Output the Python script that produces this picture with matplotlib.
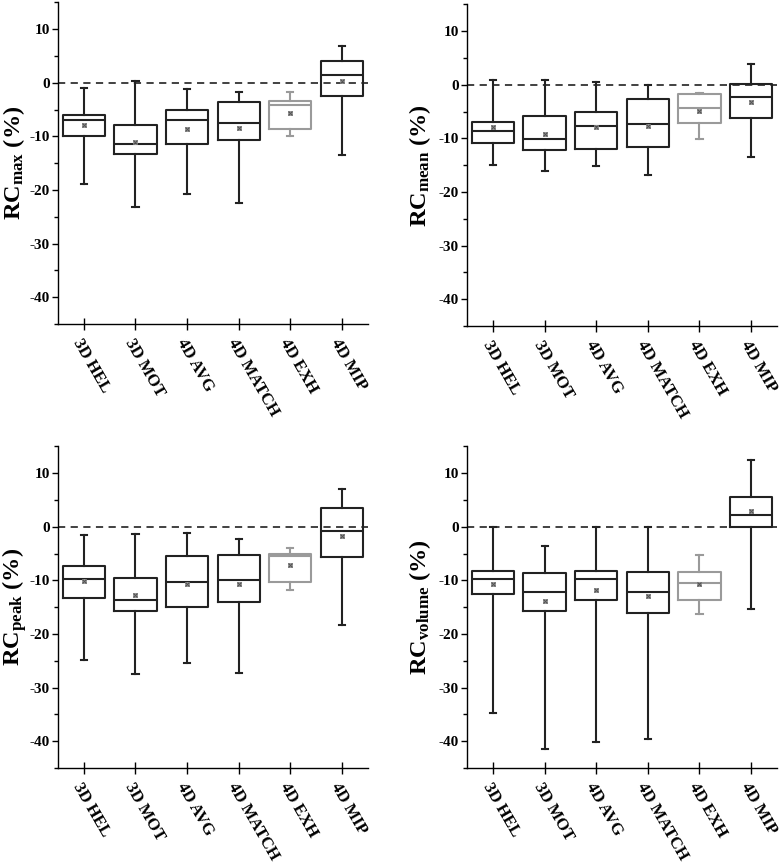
import matplotlib
matplotlib.use("Agg")
import matplotlib.pyplot as plt
from matplotlib.ticker import MultipleLocator

plt.rcParams['font.family'] = ['Liberation Serif', 'DejaVu Serif']
plt.rcParams['font.weight'] = 'bold'
plt.rcParams['axes.unicode_minus'] = False
plt.rcParams['mathtext.fontset'] = 'custom'
plt.rcParams['mathtext.rm'] = 'Liberation Serif:bold'
plt.rcParams['mathtext.it'] = 'Liberation Serif:bold'
plt.rcParams['mathtext.bf'] = 'Liberation Serif:bold'

methods = ["3D HEL", "3D MOT", "4D AVG", "4D MATCH", "4D EXH", "4D MIP"]

# each: lower whisker, Q1, median, Q3, upper whisker, mean
rc_max_low = [-18.9, -23.2, -20.8, -22.4, -9.9, -13.4]
rc_max_q1 = [-10.0, -13.3, -11.4, -10.7, -8.6, -2.5]
rc_max_med = [-7.0, -11.5, -6.9, -7.5, -4.1, 1.4]
rc_max_q3 = [-6.1, -7.9, -5.0, -3.6, -3.5, 4.0]
rc_max_high = [-0.9, 0.3, -1.2, -1.8, -1.8, 6.9]
rc_max_mean = [-7.9, -11.1, -8.6, -8.4, -5.6, 0.3]

rc_mean_low = [-14.9, -16.0, -15.2, -16.8, -10.1, -13.5]
rc_mean_q1 = [-10.9, -12.2, -11.9, -11.6, -7.1, -6.2]
rc_mean_med = [-8.7, -10.1, -7.6, -7.3, -4.4, -2.3]
rc_mean_q3 = [-6.9, -5.8, -5.1, -2.6, -1.8, 0.1]
rc_mean_high = [0.8, 0.8, 0.6, 0.0, -1.5, 3.8]
rc_mean_mean = [-7.9, -9.1, -7.9, -7.6, -4.9, -3.3]

rc_peak_low = [-24.8, -27.4, -25.4, -27.2, -11.8, -18.4]
rc_peak_q1 = [-13.3, -15.8, -14.9, -14.0, -10.3, -5.7]
rc_peak_med = [-9.7, -13.7, -10.3, -10.0, -5.5, -0.8]
rc_peak_q3 = [-7.3, -9.6, -5.5, -5.2, -5.0, 3.5]
rc_peak_high = [-1.6, -1.4, -1.2, -2.3, -3.9, 7.0]
rc_peak_mean = [-10.2, -12.7, -10.6, -10.6, -7.2, -1.8]

rc_vol_low = [-34.8, -41.5, -40.2, -39.5, -16.2, -15.3]
rc_vol_q1 = [-12.5, -15.8, -13.7, -16.1, -13.6, 0.0]
rc_vol_med = [-9.8, -12.2, -9.8, -12.2, -10.5, 2.1]
rc_vol_q3 = [-8.3, -8.7, -8.3, -8.4, -8.4, 5.5]
rc_vol_high = [0.0, -3.6, 0.0, 0.0, -5.2, 12.4]
rc_vol_mean = [-10.6, -13.8, -11.8, -13.0, -10.7, 3.0]

panels = [
    ("max", rc_max_low, rc_max_q1, rc_max_med, rc_max_q3, rc_max_high, rc_max_mean),
    ("mean", rc_mean_low, rc_mean_q1, rc_mean_med, rc_mean_q3, rc_mean_high, rc_mean_mean),
    ("peak", rc_peak_low, rc_peak_q1, rc_peak_med, rc_peak_q3, rc_peak_high, rc_peak_mean),
    ("volume", rc_vol_low, rc_vol_q1, rc_vol_med, rc_vol_q3, rc_vol_high, rc_vol_mean),
]

positions = [[0.0744, 0.6254, 0.397, 0.372], [0.599, 0.623, 0.397, 0.372],
             [0.0744, 0.1121, 0.397, 0.372], [0.599, 0.1121, 0.397, 0.372]]
label_x = [-0.10, -0.11, -0.093, -0.11]

fig = plt.figure(figsize=(7.8, 8.65), dpi=100)

for (name, lo, q1, med, q3, hi, mn), pos, lx in zip(panels, positions, label_x):
    ax = fig.add_axes(pos)
    ax.axhline(0, color='#333333', lw=1.3, ls=(0, (4, 3)), zorder=1)
    for i in range(len(methods)):
        col = '#9a9a9a' if methods[i] == "4D EXH" else '#222222'
        stats = [dict(whislo=lo[i], q1=q1[i], med=med[i], q3=q3[i], whishi=hi[i],
                      mean=mn[i], fliers=[])]
        ax.bxp(stats, positions=[i + 1], widths=0.82, showmeans=True,
               boxprops=dict(color=col, lw=1.5),
               medianprops=dict(color=col, lw=1.5),
               whiskerprops=dict(color=col, lw=1.5),
               capprops=dict(color=col, lw=1.5),
               meanprops=dict(marker='s', markerfacecolor='none',
                              markeredgecolor='#999999', markersize=3.5, mew=0.7),
               capwidths=0.12)
        ax.plot(i + 1, mn[i], marker='x', color='#555555', ms=3.5, mew=0.9, zorder=5)

    ax.set_xlim(0.5, 6.5)
    ax.set_ylim(-45, 15)
    ax.set_xticks(range(1, len(methods) + 1))
    ax.set_xticklabels(methods, rotation=-60, ha='left', va='top',
                       rotation_mode='anchor', fontsize=12, fontweight='bold')
    ax.yaxis.set_major_locator(MultipleLocator(10))
    ax.yaxis.set_minor_locator(MultipleLocator(5))
    ax.tick_params(axis='y', which='major', direction='out', length=4.5, width=1,
                   labelsize=11, pad=1.5)
    ax.tick_params(axis='y', which='minor', direction='out', length=3, width=1)
    ax.tick_params(axis='x', which='major', direction='inout', length=9, width=1, pad=4)
    for s in ['top', 'right']:
        ax.spines[s].set_visible(False)
    for s in ['left', 'bottom']:
        ax.spines[s].set_linewidth(1.0)
    for lab in ax.get_yticklabels():
        lab.set_fontweight('bold')
    ax.set_ylabel('RC$_{\\mathrm{' + name + '}}$ (%)', fontsize=17.5,
                  fontweight='bold')
    ax.yaxis.set_label_coords(lx, 0.5)

fig.savefig("out.png", dpi=100)
